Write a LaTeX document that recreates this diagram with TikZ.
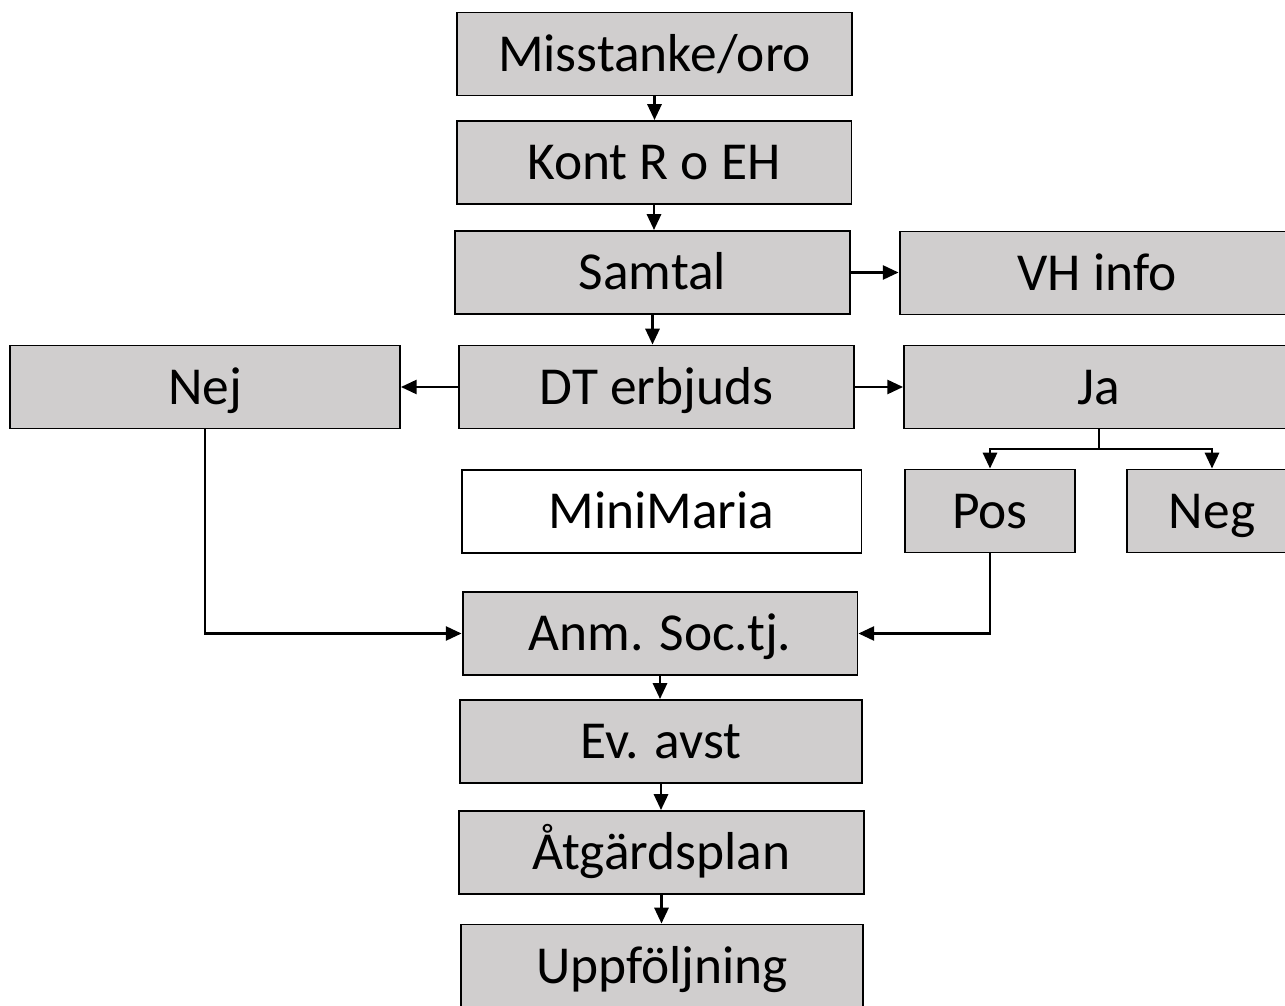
\documentclass[tikz,border=0pt]{standalone}
\usepackage{fontspec}
\setmainfont{Carlito}
\usepackage{tikz}
\usetikzlibrary{arrows.meta}
\definecolor{boxgray}{RGB}{208,206,206}

\begin{document}
\begin{tikzpicture}[x=0.02cm, y=-0.02cm,
	box/.style={draw, fill=boxgray, line width=1.1pt, minimum width=7.9cm, minimum height=1.66cm, inner sep=0, text height=19.6pt, text depth=0pt, font=\fontsize{30.4}{34}\selectfont},
	small/.style={box, minimum width=3.4cm},
	conn/.style={line width=1.5pt, -{Triangle[length=9pt, width=8pt]}}
]
\useasboundingbox (0,0) rectangle (1285,1006);
\clip (0,0) rectangle (1285,1006);

\node[box] (mis)  at (654.5,54)  {Misstanke/oro};
\node[box] (kont) at (654,162.5) {Kont R o EH};
\node[box] (samtal) at (652.5,272.5) {Samtal};
\node[box] (vh)   at (1097,273)  {VH info};
\node[box] (dt)   at (656.5,387) {DT erbjuds};
\node[box, minimum width=7.8cm] (nej) at (205,387) {Nej};
\node[box, minimum width=7.8cm] (ja)  at (1099,387) {Ja};
\node[box, fill=white, minimum width=8cm] (mini) at (661.5,511.5) {MiniMaria};
\node[small] (pos) at (990,511)  {Pos};
\node[small] (neg) at (1212,511) {Neg};
\node[box] (anm) at (660,633.5) {Anm. Soc.tj.};
\node[box, minimum width=8.04cm] (ev)  at (661,741.5) {Ev. avst};
\node[box, minimum width=8.1cm]  (atg) at (661.5,852.5) {Åtgärdsplan};
\node[box, minimum width=8.04cm] (upp) at (662,966) {Uppföljning};

\draw[conn] (mis.south) -- (mis.south |- kont.north);
\draw[conn] (kont.south) -- (kont.south |- samtal.north);
\draw[conn] (samtal.south) -- (samtal.south |- dt.north);
\draw[conn] (samtal.east) -- (samtal.east -| vh.west);
\draw[conn] (dt.west) -- (dt.west -| nej.east);
\draw[conn] (dt.east) -- (dt.east -| ja.west);

\coordinate (split) at (1099,449);
\draw[line width=1.5pt] (ja.south) -- (split);
\draw[conn] (split) -| (pos.north);
\draw[conn] (split) -| (neg.north);

\draw[conn] (nej.south) |- (anm.west);
\draw[conn] (pos.south) |- (anm.east);

\draw[conn] (anm.south) -- (anm.south |- ev.north);
\draw[conn] (ev.south) -- (ev.south |- atg.north);
\draw[conn] (atg.south) -- (atg.south |- upp.north);
\end{tikzpicture}
\end{document}
